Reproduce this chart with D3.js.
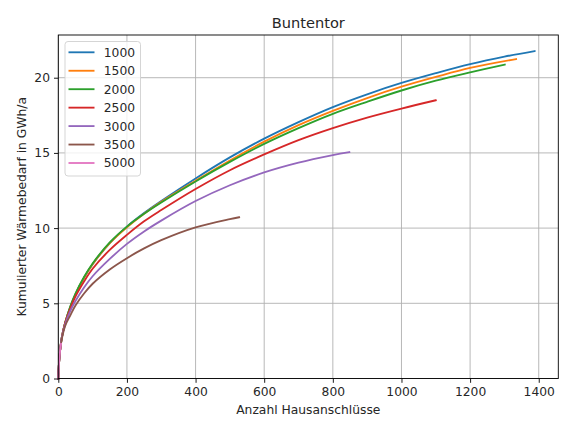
<!DOCTYPE html>
<html><head><meta charset="utf-8">
<script src="https://cdn.jsdelivr.net/npm/d3@7"></script>
<style>body{margin:0;background:#fff}svg{display:block}text{font-family:"DejaVu Sans",sans-serif;fill:#262626}</style>
</head><body><svg id="c" width="567" height="423"></svg>
<script>
const title = "Buntentor";
const xLabel = "Anzahl Hausanschlüsse";
const yLabel = "Kumulierter Wärmebedarf in GWh/a";
const seriesNames = ["1000","1500","2000","2500","3000","3500","5000"];
const colors = ["#1f77b4","#ff7f0e","#2ca02c","#d62728","#9467bd","#8c564b","#e377c2"];
const xTicks = [0,200,400,600,800,1000,1200,1400];
const yTicks = [0,5,10,15,20];

const x1000 = [0,2,5,10,20,35,50,75,100,150,200,250,300,400,500,600,700,800,900,1000,1100,1200,1300,1388];
const y1000 = [0,1.0,1.8,2.7,3.7,4.75,5.6,6.7,7.6,9.0,10.1,11.0,11.8,13.3,14.7,15.95,17.05,18.05,18.9,19.65,20.3,20.9,21.4,21.77];
const x1500 = [0,2,5,10,20,35,50,75,100,150,200,250,300,400,500,600,700,800,900,1000,1100,1200,1334];
const y1500 = [0,1.0,1.8,2.7,3.7,4.75,5.6,6.7,7.6,9.0,10.05,10.95,11.75,13.15,14.5,15.75,16.85,17.8,18.65,19.4,20.05,20.65,21.24];
const x2000 = [0,2,5,10,20,35,50,75,100,150,200,250,300,400,500,600,700,800,900,1000,1100,1200,1301];
const y2000 = [0,1.0,1.8,2.7,3.7,4.8,5.65,6.75,7.65,9.05,10.1,10.95,11.7,13.1,14.4,15.6,16.65,17.6,18.4,19.15,19.8,20.35,20.87];
const x2500 = [0,2,5,10,20,35,50,75,100,150,200,250,300,400,500,600,700,800,900,1000,1100];
const y2500 = [0,1.0,1.8,2.7,3.7,4.65,5.45,6.45,7.3,8.55,9.55,10.45,11.2,12.6,13.85,14.9,15.85,16.65,17.35,17.95,18.5];
const x3000 = [0,2,5,10,20,35,50,75,100,150,200,250,300,400,500,600,700,800,848];
const y3000 = [0,1.0,1.8,2.7,3.6,4.5,5.15,6.05,6.8,7.95,8.95,9.78,10.5,11.8,12.85,13.7,14.35,14.85,15.05];
const x3500 = [0,2,5,10,20,35,50,75,100,150,200,250,300,400,500,527];
const y3500 = [0,1.0,1.8,2.6,3.5,4.2,4.85,5.65,6.3,7.25,8.0,8.65,9.2,10.05,10.6,10.72];
const x5000 = [0,2,5,8];
const y5000 = [0,1.0,1.8,2.3];

const seriesX = [x1000,x1500,x2000,x2500,x3000,x3500,x5000];
const seriesY = [y1000,y1500,y2000,y2500,y3000,y3500,y5000];

const svg = d3.select("#c");
const L = 58.3, R = 558.3, T = 35, B = 378.5;
const x = d3.scaleLinear().domain([0,1457]).range([L,R]);
const y = d3.scaleLinear().domain([0,22.84]).range([B,T]);

// grid
const g = svg.append("g");
g.selectAll(".gx").data(xTicks).join("line")
  .attr("x1",d=>x(d)).attr("x2",d=>x(d)).attr("y1",T).attr("y2",B)
  .attr("stroke","#b0b0b0").attr("stroke-width",0.9);
g.selectAll(".gy").data(yTicks).join("line")
  .attr("y1",d=>y(d)).attr("y2",d=>y(d)).attr("x1",L).attr("x2",R)
  .attr("stroke","#b0b0b0").attr("stroke-width",0.9);

// lines
const line = d3.line().x(d=>x(d[0])).y(d=>y(d[1])).curve(d3.curveCatmullRom.alpha(0.5));
seriesNames.forEach((n,i)=>{
  const pts = seriesX[i].map((v,j)=>[v,seriesY[i][j]]);
  svg.append("path").datum(pts).attr("d",line).attr("fill","none")
    .attr("stroke",colors[i]).attr("stroke-width",1.85).attr("stroke-linecap","square").attr("stroke-linejoin","round");
});

// axes
const fs = "12.3px";
const xa = svg.append("g").attr("transform",`translate(0,${B})`)
  .call(d3.axisBottom(x).tickValues(xTicks).tickSize(4.3).tickPadding(4).tickFormat(d3.format("d")));
const ya = svg.append("g").attr("transform",`translate(${L},0)`)
  .call(d3.axisLeft(y).tickValues(yTicks).tickSize(4.3).tickPadding(4).tickFormat(d3.format("d")));
[xa,ya].forEach(a=>{a.select(".domain").remove();
  a.selectAll("line").attr("stroke","#000").attr("stroke-width",0.9);
  a.selectAll("text").attr("font-size",fs).attr("font-family","DejaVu Sans, sans-serif").attr("fill","#262626");});

// spines
svg.append("rect").attr("x",L).attr("y",T).attr("width",R-L).attr("height",B-T)
  .attr("fill","none").attr("stroke","#000").attr("stroke-width",0.9);

// title & labels
svg.append("text").attr("x",(L+R)/2).attr("y",28.3).attr("text-anchor","middle").attr("font-size","14.6px").text(title);
svg.append("text").attr("x",(L+R)/2).attr("y",414).attr("text-anchor","middle").attr("font-size",fs).text(xLabel);
svg.append("text").attr("transform",`translate(26,${(T+B)/2}) rotate(-90)`).attr("text-anchor","middle").attr("font-size",fs).text(yLabel);

// legend
const lg = svg.append("g");
lg.append("rect").attr("x",65).attr("y",41.5).attr("width",75.5).attr("height",134.5).attr("rx",3)
  .attr("fill","#fff").attr("fill-opacity",0.8).attr("stroke","#d0d0d0").attr("stroke-width",0.9);
seriesNames.forEach((n,i)=>{
  const yy = 52.3 + i*18.45;
  lg.append("line").attr("x1",68.5).attr("x2",94.5).attr("y1",yy).attr("y2",yy)
    .attr("stroke",colors[i]).attr("stroke-width",1.85);
  lg.append("text").attr("x",103.8).attr("y",yy+4.4).attr("font-size",fs).text(n);
});
</script></body></html>
